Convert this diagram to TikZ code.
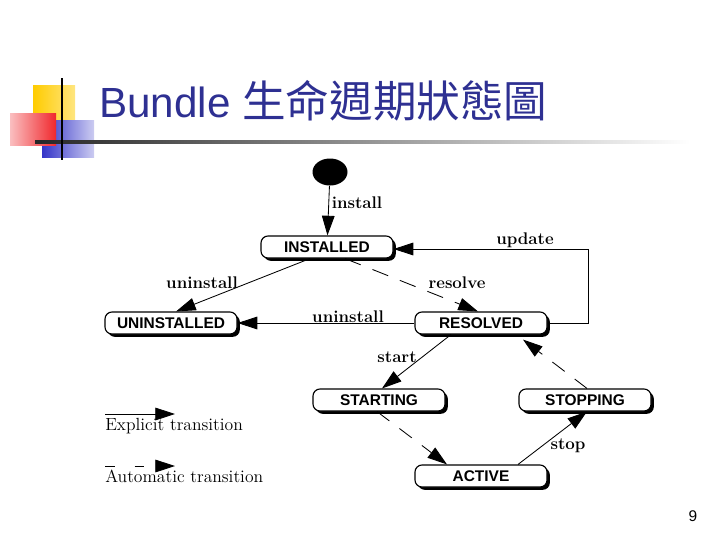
\documentclass[tikz,border=0pt]{standalone}
\usepackage{fontspec}
\setsansfont{Liberation Sans}
\newfontfamily\cjkfont{Noto Sans CJK TC}
\usetikzlibrary{arrows.meta,shapes.geometric,shadows,calc}
\definecolor{titlec}{HTML}{2E3092}
\definecolor{sqyel}{HTML}{FFCC00}
\definecolor{sqred}{HTML}{F0282D}
\definecolor{sqblu}{HTML}{3434C8}
\tikzset{
  tr/.style={-{Triangle[length=14pt,width=9pt]},semithick},
  autotr/.style={tr,dash pattern=on 11pt off 9pt},
  state/.style={draw,thick,rectangle,rounded corners=5pt,fill=white,minimum width=3.3cm,minimum height=0.55cm,inner sep=0pt,
    font=\fontsize{11}{12}\selectfont\sffamily\bfseries,
    drop shadow={shadow xshift=2pt,shadow yshift=-2pt,opacity=1,fill=black}},
  lbl/.style={font=\fontsize{12}{13}\selectfont\bfseries},
  lgd/.style={font=\fontsize{12.5}{14}\selectfont,anchor=west,inner sep=0pt}
}
\begin{document}
\begin{tikzpicture}[x=0.025cm,y=-0.025cm]
\useasboundingbox (0,0) rectangle (720,540);
% title decoration
\shade[left color=sqyel,right color=sqyel!50] (33,85) rectangle (75,119);
\shade[left color=sqblu,right color=sqblu!25] (42,120) rectangle (94,157);
\shade[left color=sqred!30,right color=sqred] (10,113) rectangle (56,145);
\shade[left color=black!85,right color=white] (35,140) rectangle (690,143);
\draw[line width=1.2pt] (62,78) -- (62,160);
\node[anchor=base west,inner sep=0pt,text=titlec] (title) at (99,117)
  {\fontsize{30}{34}\selectfont\sffamily Bundle {\cjkfont\fontsize{31}{34}\selectfont 生命週期狀態圖}};
% states
\node[ellipse,fill=black,minimum width=0.875cm,minimum height=0.675cm,inner sep=0pt] (init) at (330,172) {};
\node[state] (inst) at (327,247) {INSTALLED};
\node[state] (unin) at (171,323) {UNINSTALLED};
\node[state] (res) at (481,323) {RESOLVED};
\node[state] (strt) at (379,400) {STARTING};
\node[state] (stp) at (585,400) {STOPPING};
\node[state] (act) at (481,476) {ACTIVE};
% transitions
\draw[tr] (init) -- (inst);
\node[lbl] (linst) at (357,203) {install};
\draw[tr] ($(inst.south)+(-17,0)$) -- ($(unin.north)+(5,0)$);
\node[lbl] (luninst) at (202,283) {uninstall};
\draw[tr,dash pattern=on 12pt off 9pt] ($(inst.south)+(18,0)$) -- ($(res.north)+(-3,0)$);
\node[lbl] (lres) at (457,283) {resolve};
\draw[tr] (res) -- (unin);
\node[lbl] (luninst2) at (348,317) {uninstall};
\draw[tr] (res.east) -- (588,323) -- (588,249) -- (inst.east |- 0,249);
\node[lbl] (lupd) at (525,240) {update};
\draw[tr] ($(res.south)+(-30,0)$) -- ($(strt.north)+(3,0)$);
\node[lbl] (lstart) at (397,357) {start};
\draw[autotr] ($(strt.south)+(-2,0)$) -- ($(act.north)+(-34,0)$);
\draw[tr] ($(act.north)+(37,0)$) -- ($(stp.south)+(2,0)$);
\node[lbl] (lstop) at (568,446) {stop};
\draw[autotr] ($(stp.north)+(2,0)$) -- ($(res.south)+(42,5)$);
% legend
\coordinate (ea) at (105,414);
\coordinate (eb) at (175,414);
\draw[tr] (ea) -- (eb);
\node[lgd] (lexp) at (105,426) {Explicit transition};
\coordinate (aa) at (105,466);
\coordinate (ab) at (175,466);
\draw[tr,dash pattern=on 7pt off 14pt] (aa) -- (ab);
\node[lgd] (laut) at (105,476) {Automatic transition};
\node[font=\fontsize{11}{12}\selectfont\sffamily] (pnum) at (693,516) {9};
\end{tikzpicture}
\end{document}
